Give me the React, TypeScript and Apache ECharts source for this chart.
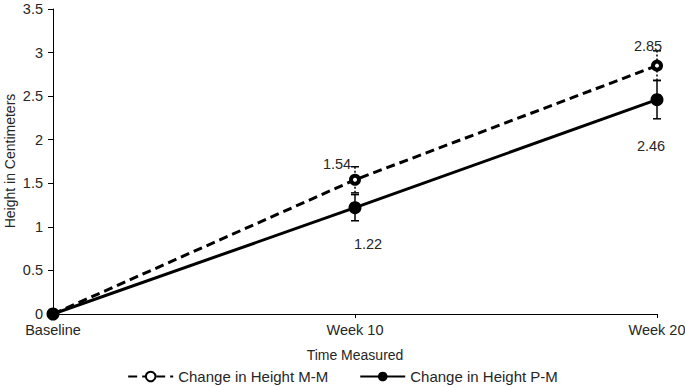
import React, { useEffect, useRef } from "react";
import * as echarts from "echarts";

const categories = ["Baseline", "Week 10", "Week 20"];
const mmValues = [0, 1.54, 2.85];
const pmValues = [0, 1.22, 2.46];
const mmErrors = [0, 0.15, 0.17];
const pmErrors = [0, 0.15, 0.22];
const yTicks = { min: 0, max: 3.5, interval: 0.5 };
const yAxisTitle = "Height in Centimeters";

const FONT = "Liberation Sans, Arial, sans-serif";
const TEXT = "#262626";

export default function App() {
  const ref = useRef<HTMLDivElement>(null);
  useEffect(() => {
    if (!ref.current) return;
    document.body.style.margin = "0";
    const chart = echarts.init(ref.current, null, { renderer: "svg" });

    const errData = (vals: number[], errs: number[]) =>
      vals
        .map((v, i) => [i, v - errs[i], v + errs[i], errs[i]])
        .filter((d) => d[3] > 0);

    const errRender = (dashed: boolean) => (params: any, api: any) => {
      const x = api.value(0);
      const lo = api.coord([x, api.value(1)]);
      const hi = api.coord([x, api.value(2)]);
      const cap = 4;
      const style = {
        stroke: "#000",
        lineWidth: 1.5,
        lineDash: dashed ? [2, 2] : null,
      };
      return {
        type: "group",
        children: [
          { type: "line", shape: { x1: lo[0], y1: lo[1], x2: hi[0], y2: hi[1] }, style },
          { type: "line", shape: { x1: lo[0] - cap, y1: lo[1], x2: lo[0] + cap, y2: lo[1] }, style: { stroke: "#000", lineWidth: 1.5 } },
          { type: "line", shape: { x1: hi[0] - cap, y1: hi[1], x2: hi[0] + cap, y2: hi[1] }, style: { stroke: "#000", lineWidth: 1.5 } },
        ],
      };
    };

    const mmLabelOffsets = [null, [-18, -16], [-9, -20]];
    const pmLabelOffsets = [null, [13, 36], [-6, 46]];

    const mkData = (vals: number[], offs: any[]) =>
      vals.map((v, i) =>
        offs[i]
          ? {
              value: v,
              label: {
                show: true,
                position: "inside",
                offset: offs[i],
                formatter: v.toFixed(2),
              },
            }
          : { value: v, label: { show: false } }
      );

    chart.setOption({
      animation: false,
      textStyle: { fontFamily: FONT },
      grid: {
        left: 53,
        right: 28,
        top: 9,
        bottom: 73,
        containLabel: false,
        outerBoundsMode: "none",
      },
      graphic: [
        {
          type: "text",
          x: 10,
          y: 161,
          rotation: Math.PI / 2,
          style: {
            text: yAxisTitle,
            fill: TEXT,
            font: `14px ${FONT}`,
            align: "center",
            verticalAlign: "middle",
          },
        },
      ],
      xAxis: {
        type: "category",
        data: categories,
        boundaryGap: false,
        name: "Time Measured",
        nameLocation: "middle",
        nameGap: 34,
        nameTextStyle: { color: TEXT, fontSize: 14, fontFamily: FONT },
        axisLine: { lineStyle: { color: "#000", width: 1 } },
        axisTick: { show: true, length: 4, alignWithLabel: true, lineStyle: { color: "#000" } },
        axisLabel: { color: TEXT, fontSize: 14.5, margin: 8, fontFamily: FONT },
        splitLine: { show: false },
      },
      yAxis: {
        type: "value",
        min: yTicks.min,
        max: yTicks.max,
        interval: yTicks.interval,
        axisLine: { show: true, lineStyle: { color: "#000", width: 1 } },
        axisTick: { show: true, length: 5, lineStyle: { color: "#000" } },
        axisLabel: { color: TEXT, fontSize: 14.5, margin: 10, fontFamily: FONT },
        splitLine: { show: false },
      },
      legend: {
        bottom: 3,
        padding: 0,
        left: "center",
        itemWidth: 45,
        itemHeight: 12,
        itemGap: 31,
        data: ["Change in Height M-M", "Change in Height P-M"],
        textStyle: { color: TEXT, fontSize: 15, fontFamily: FONT },
      },
      series: [
        {
          name: "Change in Height M-M",
          type: "line",
          data: mkData(mmValues, mmLabelOffsets),
          symbol: "circle",
          symbolSize: 8,
          clip: false,
          z: 3,
          lineStyle: { color: "#000", width: 3, type: [9, 5] },
          itemStyle: { color: "#fff", borderColor: "#000", borderWidth: 4 },
          label: { color: TEXT, fontSize: 14.5, fontFamily: FONT },
        },
        {
          name: "Change in Height P-M",
          type: "line",
          data: mkData(pmValues, pmLabelOffsets),
          symbol: "circle",
          symbolSize: 13,
          clip: false,
          z: 3,
          lineStyle: { color: "#000", width: 3, type: "solid" },
          itemStyle: { color: "#000", borderColor: "#000", borderWidth: 0 },
          label: { color: TEXT, fontSize: 14.5, fontFamily: FONT },
        },
        {
          name: "errMM",
          type: "custom",
          data: errData(mmValues, mmErrors),
          renderItem: errRender(true),
          z: 1,
          silent: true,
          clip: false,
        },
        {
          name: "errPM",
          type: "custom",
          data: errData(pmValues, pmErrors),
          renderItem: errRender(false),
          z: 1,
          silent: true,
          clip: false,
        },
      ],
    });
    return () => chart.dispose();
  }, []);
  return <div ref={ref} style={{ width: 685, height: 387 }} />;
}
